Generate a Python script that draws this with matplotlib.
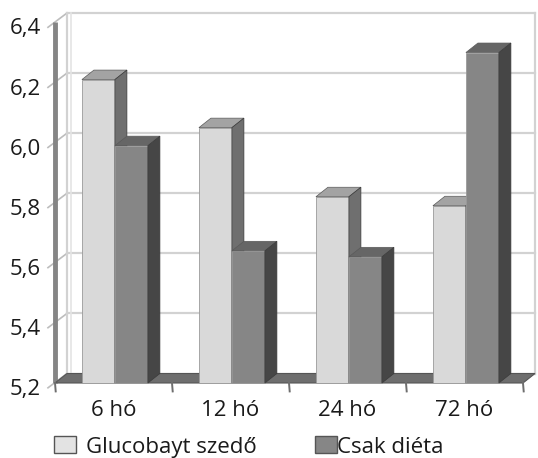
import matplotlib
matplotlib.use("Agg")
import matplotlib.pyplot as plt
import matplotlib.transforms as mtransforms
from matplotlib.patches import Polygon, Rectangle
import numpy as np

plt.rcParams['font.family'] = ['Open Sans', 'DejaVu Sans']

categories = ["6 hó", "12 hó", "24 hó", "72 hó"]
series_names = ["Glucobayt szedő", "Csak diéta"]
glucobay = [6.21, 6.05, 5.82, 5.79]
dieta = [5.99, 5.64, 5.62, 6.30]
yticks = [5.2, 5.4, 5.6, 5.8, 6.0, 6.2, 6.4]
ytick_labels = ["5,2", "5,4", "5,6", "5,8", "6,0", "6,2", "6,4"]

# 3D style colours: (front, top, side)
light_cols = ("#d9d9d9", "#a3a3a3", "#6f6f6f")
dark_cols = ("#868686", "#666666", "#464646")

FS = 16
W, H = 538, 458
fig = plt.figure(figsize=(W / 100, H / 100), dpi=100)
ax = fig.add_axes([55 / W, (H - 383) / H, 480 / W, 370 / H])

ymin, ymax = yticks[0], yticks[-1]
dx = 0.1026          # depth offset in category units
dy = 0.0316          # depth offset in value units
x0, x1 = -0.5, len(categories) - 0.5
ax.set_xlim(x0, x1 + dx)
ax.set_ylim(ymin, ymax + dy)
for s in ax.spines.values():
    s.set_visible(False)

grid_c = "#d2d2d2"
# back wall gridlines
for v in yticks:
    ax.plot([x0 + dx, x1 + dx], [v + dy, v + dy], color=grid_c, lw=1.6, zorder=1, clip_on=False)
    # left wall gridline + outside tick
    ax.plot([x0 - 0.06, x0 + dx], [v - 0.016, v + dy], color="#bdbdbd", lw=1.2, zorder=1, clip_on=False)
# back wall edges
ax.plot([x0 + dx, x0 + dx], [ymin + dy, ymax + dy], color=grid_c, lw=1.6, zorder=1, clip_on=False)
ax.plot([x0 + dx + 0.03, x0 + dx + 0.03], [ymin + dy, ymax + dy], color="#e4e4e4", lw=1.2, zorder=1, clip_on=False)
ax.plot([x1 + dx, x1 + dx], [ymin + dy, ymax + dy], color=grid_c, lw=1.6, zorder=1, clip_on=False)
# left axis (wall front edge)
ax.plot([x0, x0], [ymin, ymax], color="#858585", lw=3.5, zorder=2, clip_on=False, solid_capstyle="butt")

# floor
floor = Polygon([(x0, ymin), (x1, ymin), (x1 + dx, ymin + dy), (x0 + dx, ymin + dy)],
                closed=True, facecolor="#6e6e6e", edgecolor="#555555", lw=0.8, zorder=2, clip_on=False)
ax.add_patch(floor)
# x ticks on floor front edge
for xt in np.arange(x0, x1 + 0.01, 1.0):
    ax.plot([xt, xt + 0.006], [ymin, ymin - 0.028], color="#6e6e6e", lw=1.4, zorder=2, clip_on=False)

bw = 0.282
shift = 0.012
xs = np.arange(len(categories))


def draw_series(vals, offset, cols, z, label):
    front, top, side = cols
    bars = ax.bar(xs + offset + shift, np.array(vals) - ymin, bottom=ymin, width=bw,
                  color=front, edgecolor="#9a9a9a", lw=0.6, zorder=z, label=label, clip_on=False)
    for b, v in zip(bars, vals):
        xl = b.get_x()
        xr = xl + b.get_width()
        ax.add_patch(Polygon([(xl, v), (xr, v), (xr + dx, v + dy), (xl + dx, v + dy)], closed=True,
                             facecolor=top, edgecolor="#5a5a5a", lw=0.5, zorder=z, clip_on=False))
        ax.add_patch(Polygon([(xr, ymin), (xr + dx, ymin + dy), (xr + dx, v + dy), (xr, v)], closed=True,
                             facecolor=side, edgecolor="#3a3a3a", lw=0.5, zorder=z, clip_on=False))
    return bars


b1 = draw_series(glucobay, -bw / 2, light_cols, 3, series_names[0])
b2 = draw_series(dieta, bw / 2, dark_cols, 4, series_names[1])

ax.set_yticks(yticks)
ax.set_yticklabels(ytick_labels, fontsize=FS, color="#1a1a1a")
ax.set_xticks(xs)
ax.set_xticklabels(categories, fontsize=FS, color="#1a1a1a")
ax.tick_params(axis="y", length=0, pad=10)
ax.tick_params(axis="x", length=0, pad=12)
down = mtransforms.ScaledTranslation(0, -4 / 100, fig.dpi_scale_trans)
for lab in ax.get_yticklabels():
    lab.set_transform(lab.get_transform() + down)

h1 = Rectangle((0, 0), 1, 1, facecolor="#e3e3e3", edgecolor="#555555", lw=1.0)
h2 = Rectangle((0, 0), 1, 1, facecolor="#868686", edgecolor="#555555", lw=1.0)
leg1 = fig.legend([h1], [series_names[0]], loc="center left", bbox_to_anchor=(54 / W, (H - 447) / H),
                  frameon=False, fontsize=FS, handlelength=1.0, handleheight=0.8,
                  handletextpad=0.45, borderpad=0, borderaxespad=0)
leg2 = fig.legend([h2], [series_names[1]], loc="center left", bbox_to_anchor=(315 / W, (H - 447) / H),
                  frameon=False, fontsize=FS, handlelength=1.0, handleheight=0.8,
                  handletextpad=0.0, borderpad=0, borderaxespad=0)
for t in leg1.get_texts() + leg2.get_texts():
    t.set_color("#1a1a1a")

fig.savefig("out.png", dpi=100)
